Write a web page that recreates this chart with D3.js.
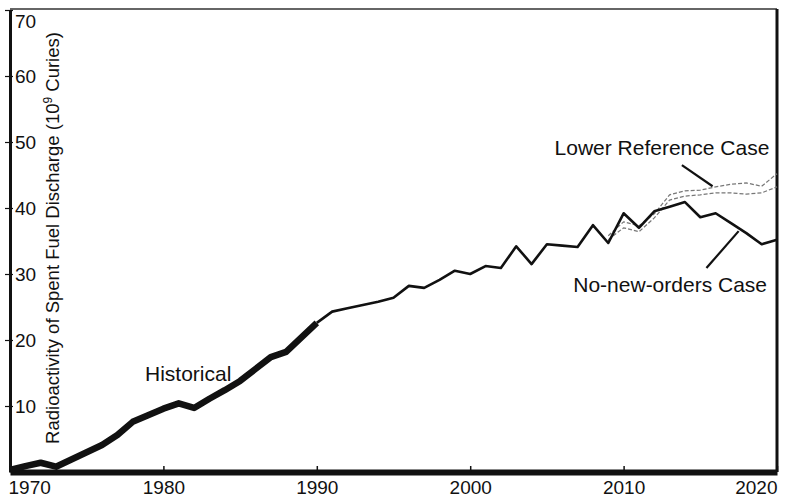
<!DOCTYPE html>
<html>
<head>
<meta charset="utf-8">
<script src="https://cdn.jsdelivr.net/npm/d3@7"></script>
<style>
  body { margin: 0; background: #fff; }
  svg { display: block; }
  text { font-family: "Liberation Sans", Arial, Helvetica, sans-serif; fill: #111; }
  .axis path, .axis line { stroke: #111; }
</style>
</head>
<body>
<script>
// data
const histYears = [1970, 1971, 1972, 1973, 1974, 1975, 1976, 1977, 1978, 1979, 1980,
    1981, 1982, 1983, 1984, 1985, 1986, 1987, 1988, 1989, 1990];
const histValues = [0.3, 0.9, 1.4, 0.8, 1.9, 3.0, 4.1, 5.6, 7.6, 8.6, 9.6,
    10.4, 9.7, 11.1, 12.4, 13.8, 15.6, 17.4, 18.2, 20.4, 22.6];

const noNewYears = [1990, 1991, 1992, 1993, 1994, 1995, 1996, 1997, 1998, 1999, 2000,
    2001, 2002, 2003, 2004, 2005, 2006, 2007, 2008, 2009, 2010,
    2011, 2012, 2013, 2014, 2015, 2016, 2017, 2018, 2019, 2020];
const noNewValues = [22.6, 24.3, 24.8, 25.3, 25.8, 26.4, 28.2, 27.9, 29.1, 30.5, 30.0,
    31.2, 30.9, 34.2, 31.5, 34.5, 34.3, 34.1, 37.4, 34.7, 39.2,
    37.0, 39.5, 40.2, 40.9, 38.6, 39.2, 37.7, 36.2, 34.5, 35.2];

const lowerRefYears = [2009, 2010, 2011, 2012, 2013, 2014, 2015, 2016, 2017, 2018, 2019, 2020];
const lowerRefHigh = [35.8, 37.9, 37.3, 39.1, 42.0, 42.6, 42.7, 43.2, 43.6, 43.8, 43.3, 45.2];
const lowerRefLow = [35.2, 37.0, 36.4, 38.5, 41.2, 41.8, 42.0, 42.3, 42.3, 42.1, 42.3, 43.2];

const xTicks = [1970, 1980, 1990, 2000, 2010, 2020];
const yTicks = [10, 20, 30, 40, 50, 60, 70];

// set the dimensions and margins of the graph
const margin = { top: 10, right: 10, bottom: 26, left: 10 },
    width = 787 - margin.left - margin.right,
    height = 498 - margin.top - margin.bottom;

const svg = d3.select("body").append("svg")
    .attr("width", width + margin.left + margin.right)
    .attr("height", height + margin.top + margin.bottom)
    .append("g")
    .attr("transform", "translate(" + margin.left + "," + margin.top + ")");

const x = d3.scaleLinear().domain([1970, 2020]).range([0, width]);
const y = d3.scaleLinear().domain([0, 70]).range([height, 0]);

const line = d3.line()
    .x(d => x(d[0]))
    .y(d => y(d[1]));

// frame: top and right borders
svg.append("line")
    .attr("x1", 0).attr("x2", width)
    .attr("y1", -1).attr("y2", -1)
    .attr("stroke", "#333").attr("stroke-width", 1.5);
svg.append("line")
    .attr("x1", width).attr("x2", width)
    .attr("y1", -1).attr("y2", height)
    .attr("stroke", "#111").attr("stroke-width", 3);

// Y axis, labels inside the plot
const yAxis = svg.append("g")
    .attr("class", "axis")
    .call(d3.axisRight(y).tickValues(yTicks).tickSize(3).tickSizeOuter(0).tickPadding(2));
yAxis.select(".domain").attr("stroke-width", 3);
yAxis.selectAll(".tick line").attr("x1", -5).attr("x2", 3).attr("stroke-width", 1.2);
yAxis.selectAll(".tick text")
    .attr("font-size", 19)
    .attr("fill", "#111")
    .attr("y", d => d === 70 ? 11 : 0);

// X axis, thick baseline
const xAxis = svg.append("g")
    .attr("class", "axis")
    .attr("transform", "translate(0," + height + ")")
    .call(d3.axisBottom(x).tickValues(xTicks).tickFormat(d3.format("d"))
        .tickSize(-6).tickSizeOuter(0).tickPadding(9));
xAxis.select(".domain").attr("stroke-width", 6);
xAxis.selectAll(".tick line").attr("stroke-width", 1.5);
xAxis.selectAll(".tick text")
    .attr("font-size", 19)
    .attr("fill", "#111")
    .attr("text-anchor", d => d === 1970 ? "start" : d === 2020 ? "end" : "middle")
    .attr("dx", d => d === 1970 ? -2 : 0);

// Y title
const ytitle = svg.append("text")
    .attr("transform", "translate(49," + (y(35) - 3) + ") rotate(-90)")
    .attr("text-anchor", "middle")
    .attr("font-size", 18.5)
    .text("Radioactivity of Spent Fuel Discharge (10");
ytitle.append("tspan").attr("baseline-shift", "super").attr("font-size", 12).text("9");
ytitle.append("tspan").text(" Curies)");

// Lower Reference Case: thin grey dashed bundle
[lowerRefHigh, lowerRefLow].forEach(vals => {
    svg.append("path")
        .datum(lowerRefYears.map((yr, i) => [yr, vals[i]]))
        .attr("fill", "none")
        .attr("stroke", "#777")
        .attr("stroke-width", 1.2)
        .attr("stroke-dasharray", "4,2")
        .attr("d", line);
});

// No-new-orders Case
svg.append("path")
    .datum(noNewYears.map((yr, i) => [yr, noNewValues[i]]))
    .attr("fill", "none")
    .attr("stroke", "#111")
    .attr("stroke-width", 2.6)
    .attr("stroke-linejoin", "round")
    .attr("d", line);

// Historical (thick)
svg.append("path")
    .datum(histYears.map((yr, i) => [yr, histValues[i]]))
    .attr("fill", "none")
    .attr("stroke", "#111")
    .attr("stroke-width", 6.5)
    .attr("stroke-linejoin", "round")
    .attr("d", line);

// annotations
const labels = [
    { text: "Historical", year: 1978.8, value: 13.8, anchor: "start" },
    { text: "Lower Reference Case", year: 2019.5, value: 48.0, anchor: "end" },
    { text: "No-new-orders Case", year: 2019.35, value: 27.3, anchor: "end" }
];
svg.selectAll("text.label")
    .data(labels)
    .enter().append("text")
    .attr("class", "label")
    .attr("x", d => x(d.year))
    .attr("y", d => y(d.value))
    .attr("text-anchor", d => d.anchor)
    .attr("font-size", 21)
    .text(d => d.text);

const pointers = [
    [[2013.8, 46.5], [2015.8, 43.3]],
    [[2015.4, 30.9], [2017.5, 36.5]]
];
svg.selectAll("path.pointer")
    .data(pointers)
    .enter().append("path")
    .attr("class", "pointer")
    .attr("fill", "none")
    .attr("stroke", "#111")
    .attr("stroke-width", 2.2)
    .attr("d", line);
</script>
</body>
</html>
